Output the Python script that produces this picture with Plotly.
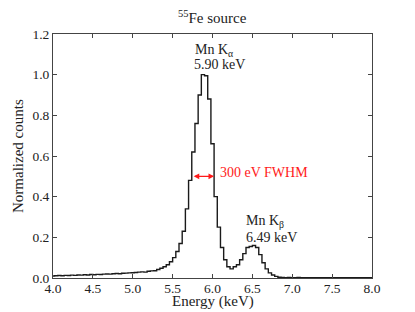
import plotly.graph_objects as go

# Histogram bins: width 0.04 keV, first bin starts at 3.98 keV
bin_start = 3.98
bin_width = 0.04

baseline_counts = [0.010, 0.011, 0.012, 0.011, 0.013, 0.012, 0.014, 0.013, 0.015, 0.014,
                   0.016, 0.015, 0.017, 0.016, 0.018, 0.017, 0.019, 0.020, 0.019, 0.021,
                   0.022, 0.021, 0.023, 0.024, 0.025, 0.026]
peak_counts = [0.027, 0.029, 0.030, 0.029, 0.033, 0.035, 0.036, 0.042, 0.048, 0.055,
               0.065, 0.080, 0.100, 0.130, 0.170, 0.230, 0.340, 0.480, 0.620, 0.760,
               0.900, 1.000, 0.995, 0.880, 0.660, 0.400, 0.250, 0.150, 0.090, 0.055,
               0.045, 0.055, 0.065, 0.090, 0.120, 0.150, 0.155, 0.160, 0.150, 0.115,
               0.075, 0.045, 0.025, 0.015, 0.008, 0.004]
tail_counts = [0.003, 0.002, 0.003, 0.002, 0.002, 0.003, 0.002, 0.002, 0.001, 0.002,
               0.002, 0.001, 0.002, 0.001, 0.001, 0.002, 0.001, 0.001, 0.001, 0.002,
               0.001, 0.001, 0.001, 0.001, 0.001, 0.001, 0.001, 0.001, 0.001]

counts = baseline_counts + peak_counts + tail_counts
edges = [round(bin_start + bin_width * i, 4) for i in range(len(counts) + 1)]

x_ticks = [4.0, 4.5, 5.0, 5.5, 6.0, 6.5, 7.0, 7.5, 8.0]
y_ticks = [0.0, 0.2, 0.4, 0.6, 0.8, 1.0, 1.2]

fwhm_left, fwhm_right, fwhm_level = 5.745, 6.02, 0.5

FONT = "Liberation Serif"
TXT = "#222222"

fig = go.Figure()
fig.add_trace(go.Scatter(
    x=edges, y=counts + [counts[-1]], mode="lines", line_shape="hv",
    line=dict(color="#1a1a1a", width=1.4), showlegend=False, hoverinfo="skip"))

annotations = [
    dict(x=fwhm_right, y=fwhm_level, ax=fwhm_left, ay=fwhm_level, xref="x", yref="y",
         axref="x", ayref="y", text="", showarrow=True, arrowhead=2, arrowside="end+start",
         arrowsize=0.8, arrowwidth=1.4, arrowcolor="#ff1a1a", standoff=0, startstandoff=0),
    dict(x=6.07, y=0.52, xref="x", yref="y", text="300 eV FWHM", showarrow=False,
         xanchor="left", yanchor="middle", font=dict(family=FONT, size=14, color="#ff1a1a")),
    dict(x=5.75, y=1.12, xref="x", yref="y", text="Mn K<sub>α</sub>", showarrow=False,
         xanchor="left", yanchor="middle", font=dict(family=FONT, size=14, color=TXT)),
    dict(x=5.74, y=1.05, xref="x", yref="y", text="5.90 keV", showarrow=False,
         xanchor="left", yanchor="middle", font=dict(family=FONT, size=14, color=TXT)),
    dict(x=6.40, y=0.28, xref="x", yref="y", text="Mn K<sub>β</sub>", showarrow=False,
         xanchor="left", yanchor="middle", font=dict(family=FONT, size=14, color=TXT)),
    dict(x=6.39, y=0.20, xref="x", yref="y", text="6.49 keV", showarrow=False,
         xanchor="left", yanchor="middle", font=dict(family=FONT, size=14, color=TXT)),
    # axis titles
    dict(x=0.5, y=0, xref="paper", yref="paper", yshift=-23, text="Energy (keV)",
         showarrow=False, xanchor="center", yanchor="middle",
         font=dict(family=FONT, size=15, color=TXT)),
    dict(x=0, y=0.5, xref="paper", yref="paper", xshift=-35, text="Normalized counts",
         showarrow=False, xanchor="center", yanchor="middle", textangle=-90,
         font=dict(family=FONT, size=15, color=TXT)),
    dict(x=0.5, y=1, xref="paper", yref="paper", yshift=17, text="<sup>55</sup>Fe source",
         showarrow=False, xanchor="center", yanchor="middle",
         font=dict(family=FONT, size=15, color=TXT)),
]

axis_common = dict(showgrid=False, zeroline=False, showline=True, linecolor="#444444",
                   linewidth=1, mirror="allticks", ticks="inside", ticklen=4,
                   tickcolor="#444444", automargin=False,
                   tickfont=dict(family=FONT, size=13.5, color=TXT))

fig.update_layout(
    width=415, height=312,
    margin=dict(l=53, r=43, t=34, b=34),
    paper_bgcolor="white", plot_bgcolor="white",
    xaxis=dict(range=[4.0, 8.0], tickvals=x_ticks, ticktext=[f"{v:.1f}" for v in x_ticks],
               ticklabelstandoff=-2, **axis_common),
    yaxis=dict(range=[0.0, 1.2], tickvals=y_ticks, ticktext=[f"{v:.1f}" for v in y_ticks],
               ticklabelstandoff=0, **axis_common),
    annotations=annotations,
)

fig.write_html("out.html", config={"displayModeBar": False, "staticPlot": True},
               post_script="document.body.style.margin='0';document.body.style.overflow='hidden';")
